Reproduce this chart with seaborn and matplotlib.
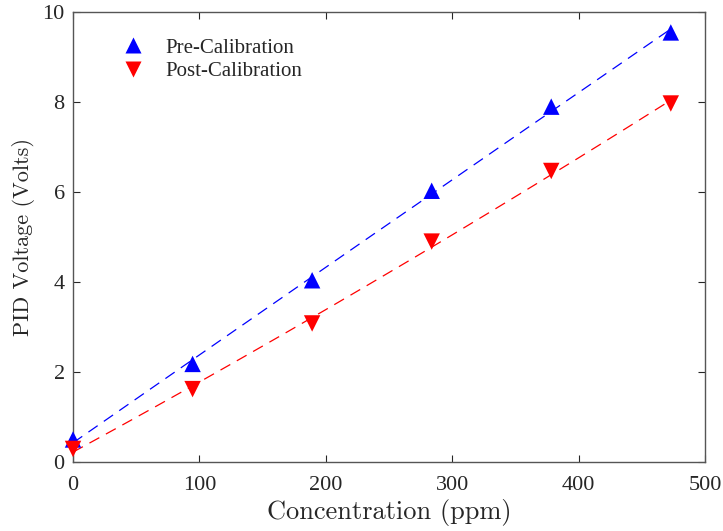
import numpy as np
import pandas as pd
import matplotlib
matplotlib.use("Agg")
import matplotlib.pyplot as plt
import seaborn as sns

# Calibration measurements
concentration = [0, 94.6, 189.2, 283.8, 378.4, 473]
pre_voltage = [0.50, 2.18, 4.04, 6.03, 7.90, 9.55]
post_voltage = [0.29, 1.62, 3.08, 4.90, 6.47, 7.97]
series_names = ["Pre-Calibration", "Post-Calibration"]
x_ticks = [0, 100, 200, 300, 400, 500]
y_ticks = [0, 2, 4, 6, 8, 10]

sns.set_theme(style="white")
plt.rcParams["font.family"] = ["Liberation Serif", "DejaVu Serif"]

fig = plt.figure(figsize=(7.23, 5.31), dpi=100)
ax = fig.add_axes([0.101, 0.130, 0.874, 0.847])

df = pd.DataFrame({
    "Concentration": concentration * 2,
    "Voltage": pre_voltage + post_voltage,
    "Series": [series_names[0]] * 6 + [series_names[1]] * 6,
})
palette = {series_names[0]: "#0000ff", series_names[1]: "#ff0000"}
markers = {series_names[0]: "^", series_names[1]: "v"}

# quadratic fit curves through each series
xs = np.linspace(0, concentration[-1], 200)
for name, vals in zip(series_names, [pre_voltage, post_voltage]):
    coef = np.polyfit(concentration, vals, 2)
    sns.lineplot(x=xs, y=np.polyval(coef, xs), ax=ax, color=palette[name],
                 lw=0.9, dashes=False, legend=False, zorder=2)
    ax.lines[-1].set_dashes([9, 6])

sns.scatterplot(data=df, x="Concentration", y="Voltage", hue="Series",
                style="Series", palette=palette, markers=markers, s=140,
                edgecolor="none", ax=ax, zorder=3, clip_on=False)

ax.set_xlim(0, 500)
ax.set_ylim(0, 10)
ax.set_xticks(x_ticks)
ax.set_yticks(y_ticks)
ax.tick_params(direction="in", length=5, width=0.8, colors="#262626",
               labelsize=16, top=True, right=True, bottom=True, left=True,
               pad=6)
ax.tick_params(axis="x", pad=10)
for sp in ax.spines.values():
    sp.set_visible(True)
    sp.set_color("#555555")
    sp.set_linewidth(1.0)

ax.set_xlabel("Concentration (ppm)", family="cmr10", fontsize=19,
              color="#262626", labelpad=3)
ax.set_ylabel("PID Voltage (Volts)", family="cmr10", fontsize=16,
              color="#262626", labelpad=5)

leg = ax.legend(loc="upper left", bbox_to_anchor=(0.032, 0.984), frameon=False,
                fontsize=15, handlelength=2.0, handletextpad=0.55,
                labelspacing=0.2, markerscale=1.0)

fig.savefig("out.png", dpi=100)
